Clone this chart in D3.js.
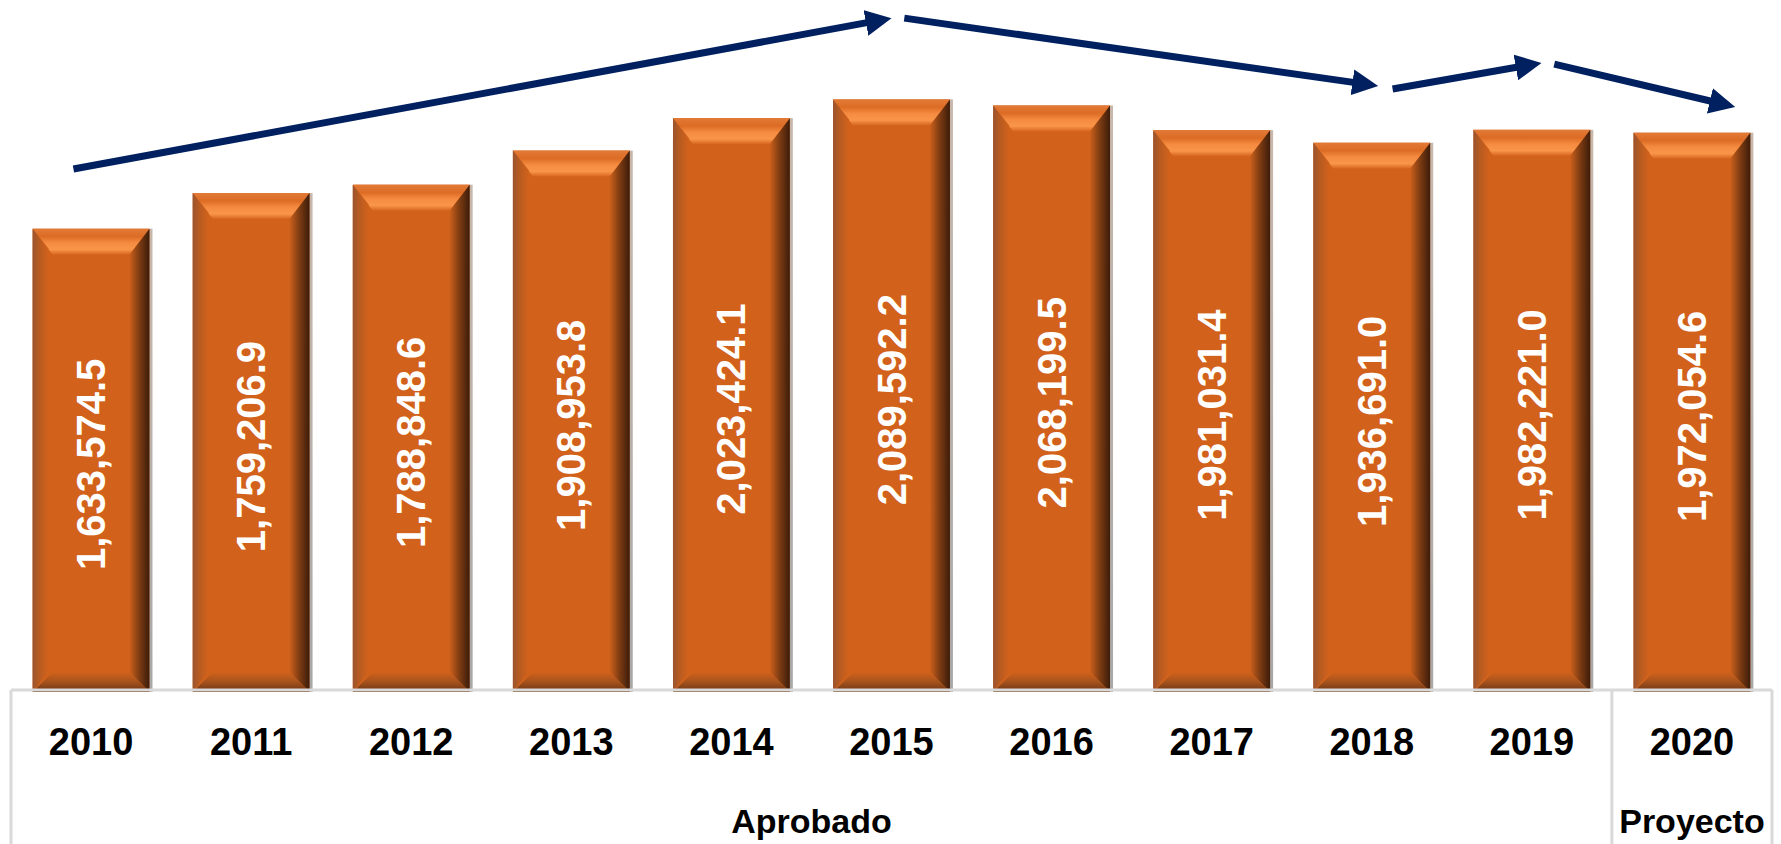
<!DOCTYPE html>
<html>
<head>
<meta charset="utf-8">
<script src="https://cdn.jsdelivr.net/npm/d3@7"></script>
<style>
  body { margin: 0; background: #fff; }
  svg { display: block; }
</style>
</head>
<body>
<div id="chart"></div>
<script>
// years and approved amounts
const years = [2010, 2011, 2012, 2013, 2014, 2015, 2016, 2017, 2018, 2019, 2020];
const amounts = [
  1633574.5, 1759206.9, 1788848.6, 1908953.8, 2023424.1, 2089592.2,
  2068199.5, 1981031.4, 1936691.0, 1982221.0, 1972054.6,
];
const yearLabels = years.map(String);

// groups under the year row
const groupNames = ["Aprobado", "Proyecto"];
const groupFirst = [2010, 2020];
const groupLast = [2019, 2020];

// trend arrows, in data space: [year position, amount]
const arrowFrom = [[2009.89, 1844000], [2015.08, 2376000], [2018.13, 2126000], [2019.14, 2214000]];
const arrowTo = [[2015.0, 2376000], [2018.04, 2137000], [2019.06, 2218000], [2020.27, 2063000]];

function drawChart(id) {
  const w = 1781;
  const h = 844;
  const left = 11;
  const right = 1772;
  const base = 692;
  const axisY = 690;
  const bevel = 20;

  const svg = d3
    .select(`#${id}`)
    .append("svg")
    .attr("width", w)
    .attr("height", h);

  const x = d3
    .scaleBand()
    .domain(years)
    .range([left, right])
    .paddingInner(0.27)
    .paddingOuter(0.135);

  const y = d3.scaleLinear().domain([0, 2440000]).range([base, 0]);

  // continuous position for annotations
  const xc = d3
    .scaleLinear()
    .domain([years[0], years[years.length - 1]])
    .range([x(years[0]) + x.bandwidth() / 2, x(years[years.length - 1]) + x.bandwidth() / 2]);

  const defs = svg.append("defs");

  function grad(name, horizontal, stops) {
    const g = defs
      .append("linearGradient")
      .attr("id", name)
      .attr("x1", 0)
      .attr("y1", 0)
      .attr("x2", horizontal ? 1 : 0)
      .attr("y2", horizontal ? 0 : 1);
    stops.forEach(([o, c]) => g.append("stop").attr("offset", o).attr("stop-color", c));
  }
  grad("gTop", false, [[0, "#e27a36"], [0.3, "#dc6c25"], [0.55, "#f58b40"], [0.8, "#f99549"], [1, "#d6651f"]]);
  grad("gLeft", true, [[0, "#9a5430"], [0.35, "#b45a22"], [1, "#d2621b"]]);
  grad("gRight", true, [[0, "#cc601c"], [0.5, "#7c3b12"], [1, "#3c1c0a"]]);
  grad("gBottom", false, [[0, "#d2621b"], [0.5, "#a5521d"], [1, "#6a3414"]]);
  grad("gShadow", false, [[0, "#c8b8ac"], [1, "#a8a8a8"]]);

  // head overlaps the line end by 8px and reaches 18px past it
  defs
    .append("marker")
    .attr("id", "head")
    .attr("markerUnits", "userSpaceOnUse")
    .attr("viewBox", "0 0 26 26")
    .attr("refX", 8)
    .attr("refY", 13)
    .attr("markerWidth", 26)
    .attr("markerHeight", 26)
    .attr("orient", "auto")
    .append("path")
    .attr("d", "M0,0 L26,13 L0,26 Z")
    .attr("fill", "#002060");

  const bars = svg
    .append("g")
    .selectAll("g")
    .data(years)
    .enter()
    .append("g");

  // light shadow on the right side
  bars
    .append("rect")
    .attr("x", (d) => x(d) + x.bandwidth())
    .attr("y", (d, i) => y(amounts[i]))
    .attr("width", 3)
    .attr("height", (d, i) => base - y(amounts[i]))
    .attr("fill", "url(#gShadow)");

  bars
    .append("rect")
    .attr("x", (d) => x(d))
    .attr("y", (d, i) => y(amounts[i]))
    .attr("width", x.bandwidth())
    .attr("height", (d, i) => base - y(amounts[i]))
    .attr("fill", "#d2621b");

  // bevel faces
  const faces = [
    ["gTop", (x0, x1, y0, y1) => [[x0, y0], [x1, y0], [x1 - bevel, y0 + bevel + 6], [x0 + bevel, y0 + bevel + 6]]],
    ["gLeft", (x0, x1, y0, y1) => [[x0, y0], [x0 + bevel - 4, y0 + bevel], [x0 + bevel - 4, y1 - bevel], [x0, y1]]],
    ["gRight", (x0, x1, y0, y1) => [[x1, y0], [x1 - bevel, y0 + bevel + 6], [x1 - bevel, y1 - bevel], [x1, y1]]],
    ["gBottom", (x0, x1, y0, y1) => [[x0, y1], [x0 + bevel, y1 - bevel], [x1 - bevel, y1 - bevel], [x1, y1]]],
  ];
  faces.forEach(([fill, shape]) => {
    bars
      .append("polygon")
      .attr("points", (d, i) =>
        shape(x(d), x(d) + x.bandwidth(), y(amounts[i]), base)
          .map((p) => p.join(","))
          .join(" ")
      )
      .attr("fill", `url(#${fill})`);
  });

  // value labels inside the bars
  bars
    .append("text")
    .attr("transform", (d, i) => {
      const cx = x(d) + x.bandwidth() / 2;
      const cy = (y(amounts[i]) + base) / 2 + 4;
      return `translate(${cx},${cy}) rotate(-90)`;
    })
    .attr("text-anchor", "middle")
    .attr("dy", "0.35em")
    .attr("fill", "#fff")
    .attr("font-family", "'Liberation Sans', Arial, sans-serif")
    .attr("font-weight", "bold")
    .attr("font-size", 40)
    .text((d, i) => d3.format(",.1f")(amounts[i]));

  // category axis frame
  const grey = "#d9d9d9";
  const axis = svg.append("g").attr("stroke", grey).attr("stroke-width", 3);
  axis.append("line").attr("x1", left).attr("x2", right).attr("y1", axisY).attr("y2", axisY);
  const splits = [left, x(groupFirst[1]) - x.step() * x.paddingInner() / 2, right];
  axis
    .selectAll("line.split")
    .data(splits)
    .enter()
    .append("line")
    .attr("class", "split")
    .attr("x1", (d) => d)
    .attr("x2", (d) => d)
    .attr("y1", axisY)
    .attr("y2", h);

  svg
    .append("g")
    .selectAll("text")
    .data(yearLabels)
    .enter()
    .append("text")
    .attr("x", (d, i) => x(years[i]) + x.bandwidth() / 2)
    .attr("y", 755)
    .attr("text-anchor", "middle")
    .attr("font-family", "'Liberation Sans', Arial, sans-serif")
    .attr("font-weight", "bold")
    .attr("font-size", 38)
    .attr("fill", "#000")
    .text((d) => d);

  svg
    .append("g")
    .selectAll("text")
    .data(groupNames)
    .enter()
    .append("text")
    .attr("x", (d, i) => (x(groupFirst[i]) + x(groupLast[i]) + x.bandwidth()) / 2)
    .attr("y", 833)
    .attr("text-anchor", "middle")
    .attr("font-family", "'Liberation Sans', Arial, sans-serif")
    .attr("font-weight", "bold")
    .attr("font-size", 34)
    .attr("fill", "#000")
    .text((d) => d);

  // trend arrows, line stops short so the head keeps a clean point
  function tail(i) {
    const x1 = xc(arrowFrom[i][0]), y1 = y(arrowFrom[i][1]);
    const x2 = xc(arrowTo[i][0]), y2 = y(arrowTo[i][1]);
    const len = Math.hypot(x2 - x1, y2 - y1);
    return [x2 - ((x2 - x1) / len) * 18, y2 - ((y2 - y1) / len) * 18];
  }

  svg
    .append("g")
    .selectAll("line")
    .data(arrowFrom)
    .enter()
    .append("line")
    .attr("x1", (d) => xc(d[0]))
    .attr("y1", (d) => y(d[1]))
    .attr("x2", (d, i) => tail(i)[0])
    .attr("y2", (d, i) => tail(i)[1])
    .attr("stroke", "#002060")
    .attr("stroke-width", 7)
    .attr("marker-end", "url(#head)");
}

document.addEventListener("DOMContentLoaded", function () {
  drawChart("chart");
});
</script>
</body>
</html>
